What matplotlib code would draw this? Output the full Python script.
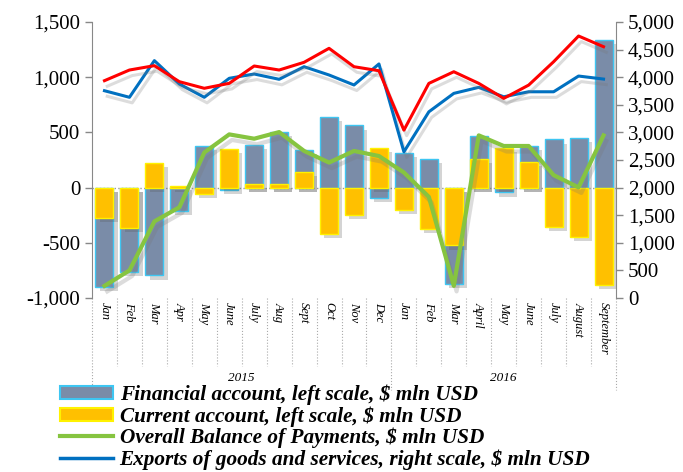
import matplotlib.pyplot as plt
import matplotlib.patheffects as pe
from matplotlib.patches import Patch
from matplotlib.lines import Line2D
import numpy as np

plt.rcParams['font.family'] = ['Liberation Serif', 'DejaVu Serif']

# Monthly data, Jan 2015 - Sep 2016
months = ['Jan', 'Feb', 'Mar', 'Apr', 'May', 'June', 'July', 'Aug', 'Sept', 'Oct', 'Nov', 'Dec',
          'Jan', 'Feb', 'Mar', 'April', 'May', 'June', 'July', 'August', 'September']
years = ['2015', '2016']
financial = [-900, -764, -795, -209, 377, -18, 386, 506, 338, 641, 563, -97,
             317, 263, -869, 467, -43, 377, 437, 452, 1338]
current = [-278, -368, 227, 14, -59, 347, 32, 32, 142, -419, -248, 362,
           -200, -374, -524, 263, 362, 233, -359, -449, -878]
balance = [-890, -750, -306, -178, 318, 482, 443, 503, 332, 227, 332, 286,
           137, -84, -890, 473, 377, 377, 113, 2, 473]
exports = [3755, 3636, 4300, 3877, 3636, 3980, 4058, 3962, 4190, 4040, 3859, 4240,
           2648, 3373, 3707, 3816, 3645, 3736, 3736, 4021, 3966]
imports = [3937, 4130, 4209, 3919, 3799, 3889, 4203, 4130, 4270, 4523, 4190, 4117,
           3041, 3888, 4099, 3888, 3616, 3857, 4280, 4746, 4552]

x = np.arange(len(months))

fig = plt.figure(figsize=(6.83, 4.72), dpi=100)
ax = fig.add_axes([0.1347, 0.3686, 0.7672, 0.5848])
ax2 = ax.twinx()

bar_shadow = [pe.SimplePatchShadow(offset=(3, -3), shadow_rgbFace='#555555', alpha=0.25), pe.Normal()]
line_shadow = [pe.SimpleLineShadow(offset=(2, -4), shadow_color='#777777', alpha=0.25), pe.Normal()]

ax.bar(x, financial, width=0.72, color='#7A8CA8', edgecolor='#3EC6F2', linewidth=1.0,
       zorder=2, path_effects=bar_shadow)
ax.bar(x, current, width=0.72, color='#FFC000', edgecolor='#FFF200', linewidth=1.0,
       zorder=3, path_effects=bar_shadow)
ax.axhline(0, color='#999999', linestyle=':', linewidth=1.0, zorder=2.5)
ax.plot(x, balance, color='#86C440', linewidth=3.0, zorder=4, path_effects=line_shadow)

ax2.plot(x, exports, color='#0070C0', linewidth=2.2, zorder=5, path_effects=line_shadow)
ax2.plot(x, imports, color='#FF0000', linewidth=2.2, zorder=5, path_effects=line_shadow)

ax.set_xlim(-0.5, len(months) - 0.5)
ax.set_ylim(-1000, 1500)
ax.set_yticks(np.arange(-1000, 1501, 500))
ax.set_yticklabels([f'{v:,}' for v in range(-1000, 1501, 500)])
ax2.set_ylim(0, 5000)
ax2.set_yticks(np.arange(0, 5001, 500))
ax2.set_yticklabels([f'{v:,}' for v in range(0, 5001, 500)])

for a in (ax, ax2):
    for s in ['top', 'bottom']:
        a.spines[s].set_visible(False)
    a.tick_params(axis='y', labelsize=15, length=5, color='#888888', width=1)
ax.spines['left'].set_color('#888888')
ax.spines['right'].set_visible(False)
ax2.spines['left'].set_visible(False)
ax2.spines['right'].set_color('#888888')

ax.set_xticks(x)
ax.set_xticklabels(months, rotation=270, fontsize=9, style='italic', va='top')
ax.tick_params(axis='x', length=0, pad=3)

# category separators below the axis
trans = ax.get_xaxis_transform()
for b in np.arange(0.5, len(months) - 1, 1):
    if b == 11.5:
        continue
    ax.plot([b, b], [0, -0.245], transform=trans, color='#aaaaaa', linestyle=':',
            linewidth=0.8, clip_on=False)
for b in [-0.5, 11.5, len(months) - 0.5]:
    ax.plot([b, b], [0, -0.335], transform=trans, color='#aaaaaa', linestyle=':',
            linewidth=0.8, clip_on=False)
ax.text(5.5, -0.29, years[0], transform=trans, ha='center', va='center',
        fontsize=9.5, style='italic')
ax.text(16, -0.29, years[1], transform=trans, ha='center', va='center',
        fontsize=9.5, style='italic')

handles = [
    Patch(facecolor='#7A8CA8', edgecolor='#3EC6F2', linewidth=1.5),
    Patch(facecolor='#FFC000', edgecolor='#FFF200', linewidth=1.5),
    Line2D([], [], color='#86C440', linewidth=3),
    Line2D([], [], color='#0070C0', linewidth=2.5),
]
labels = ['Financial account, left scale, $ mln USD',
          'Current account, left scale, $ mln USD',
          'Overall Balance of Payments, $ mln USD',
          'Exports of goods and services, right scale, $ mln USD']
fig.legend(handles, labels, loc='upper left', bbox_to_anchor=(0.088, 0.185),
           frameon=False, prop={'size': 15.3, 'style': 'italic', 'weight': 'bold'},
           handlelength=2.5, handleheight=0.55, handletextpad=0.3,
           labelspacing=0.05, borderaxespad=0, borderpad=0)

fig.savefig('out.png', dpi=100)
